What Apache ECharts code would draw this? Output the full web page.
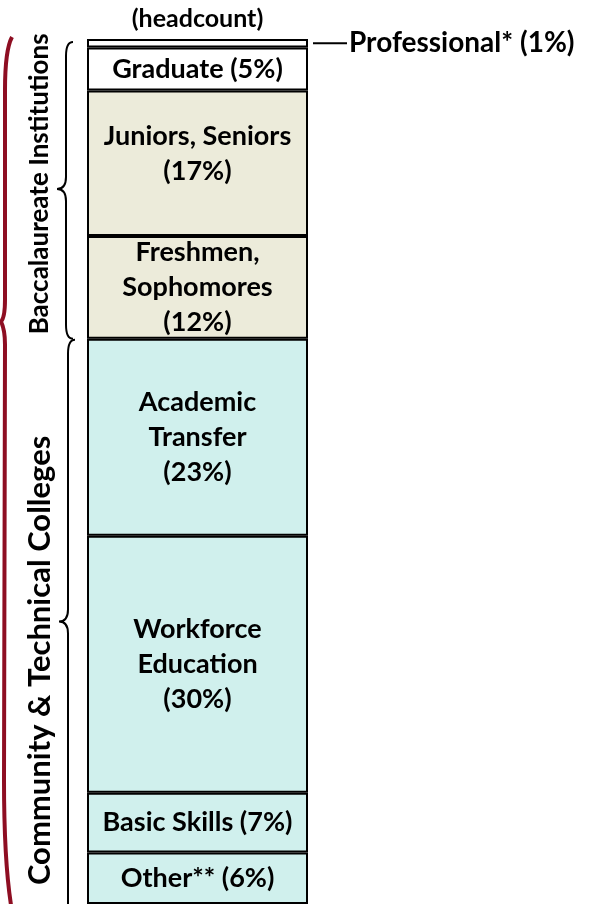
<!DOCTYPE html>
<html>
<head>
<meta charset="utf-8">
<script src="https://cdn.jsdelivr.net/npm/echarts@6/dist/echarts.min.js"></script>
<style>
html, body { margin: 0; padding: 0; background: #fff; }
#chart { width: 591px; height: 904px; }
</style>
</head>
<body>
<div id="chart"></div>
<script>
// headcount shares, top of the column first
const category = ['(headcount)']
const segments = ['Professional*', 'Graduate', 'Juniors, Seniors', 'Freshmen, Sophomores', 'Academic Transfer', 'Workforce Education', 'Basic Skills', 'Other**']
const shares = [1, 5, 17, 12, 23, 30, 7, 6]
const segLabels = ['Professional* (1%)', 'Graduate (5%)', 'Juniors, Seniors\n(17%)', 'Freshmen,\nSophomores\n(12%)', 'Academic\nTransfer\n(23%)', 'Workforce\nEducation\n(30%)', 'Basic Skills (7%)', 'Other** (6%)']
const groups = ['Baccalaureate Institutions', 'Community & Technical Colleges']
const groupSizes = [4, 4]

const FONT = 'Lato'
const segColors = ['#ffffff', '#ffffff', '#ecebda', '#ecebda', '#d0f0ed', '#d0f0ed', '#d0f0ed', '#d0f0ed']
const total = shares.reduce((a, b) => a + b, 0)

// curly brace, tip pointing left
const Brace = echarts.graphic.extendShape({
    shape: { x: 0, y1: 0, y2: 0, tip: 0, depth: 9, curl: 7 },
    buildPath (ctx, s) {
        ctx.moveTo(s.x + s.curl, s.y1)
        ctx.quadraticCurveTo(s.x, s.y1, s.x, s.y1 + 14)
        ctx.lineTo(s.x, s.tip - 12)
        ctx.quadraticCurveTo(s.x, s.tip, s.x - s.depth, s.tip)
        ctx.quadraticCurveTo(s.x, s.tip, s.x, s.tip + 12)
        ctx.lineTo(s.x, s.y2 - 14)
        ctx.quadraticCurveTo(s.x, s.y2, s.x + s.curl, s.y2)
    }
})
// big red bracket on the far left
const BigBracket = echarts.graphic.extendShape({
    shape: { y1: 0, y2: 0, tip: 0 },
    buildPath (ctx, s) {
        ctx.moveTo(12, s.y1)
        ctx.quadraticCurveTo(5, s.y1 + 13, 5, s.y1 + 53)
        ctx.lineTo(5, s.tip - 22)
        ctx.quadraticCurveTo(5, s.tip - 4, 1, s.tip)
        ctx.quadraticCurveTo(5, s.tip + 8, 5, s.tip + 23)
        ctx.lineTo(4, s.y2 - 125)
        ctx.quadraticCurveTo(4, s.y2 - 45, 11, s.y2)
    }
})
echarts.graphic.registerShape('brace', Brace)
echarts.graphic.registerShape('bigBracket', BigBracket)

const chart = echarts.init(document.getElementById('chart'))

const series = segments.map((name, i) => {
    const label = {
        show: true,
        position: 'inside',
        formatter: segLabels[i],
        color: '#000',
        fontFamily: FONT,
        fontWeight: 'bold',
        fontSize: 27,
        lineHeight: 35
    }
    if (i === 0) {
        // small slice: label sits outside with a leader line
        label.position = 'right'
        label.distance = 5
        label.formatter = '{line|}{t|' + segLabels[i] + '}'
        label.rich = {
            line: { width: 34, height: 2, backgroundColor: '#000' },
            t: { fontFamily: FONT, fontWeight: 'bold', fontSize: 28, color: '#000', padding: [0, 0, 0, 2] }
        }
    }
    if (i === 2) label.offset = [0, -9]
    return {
        name: name,
        type: 'bar',
        stack: 'all',
        barWidth: '100%',
        data: [shares[i]],
        itemStyle: { color: segColors[i], borderColor: '#000', borderWidth: 2 },
        label: label,
        silent: true
    }
})

chart.setOption({
    animation: false,
    grid: { left: 87, right: 283, top: 39, bottom: -2 },
    xAxis: {
        type: 'category',
        position: 'top',
        data: category,
        axisLine: { show: false },
        axisTick: { show: false },
        axisLabel: { margin: 8, color: '#000', fontFamily: FONT, fontWeight: 'bold', fontSize: 25 }
    },
    yAxis: {
        type: 'value',
        inverse: true,
        min: 0,
        max: total,
        show: false
    },
    series: series
})

const toY = v => chart.convertToPixel({ yAxisIndex: 0 }, v)
const titleShift = [-5, 39]
const titleSize = [26, 31]
let start = 0
let idx = 0
const graphic = []
groups.forEach((g, gi) => {
    let end = start
    for (let k = 0; k < groupSizes[gi]; k++) end += shares[idx++]
    const y1 = toY(start) + (gi === 0 ? 3 : 1)
    const y2 = toY(end) + (gi === 0 ? 0 : 30)
    const mid = (toY(start) + toY(end)) / 2
    graphic.push({
        type: 'brace',
        shape: { x: gi === 0 ? 66 : 68, y1: y1, y2: y2, tip: mid, depth: 9, curl: 7 },
        style: { fill: 'none', stroke: '#000', lineWidth: 2 }
    })
    graphic.push({
        type: 'text',
        x: 40,
        y: mid + titleShift[gi],
        rotation: Math.PI / 2,
        style: {
            text: g,
            fill: '#000',
            font: 'bold ' + titleSize[gi] + 'px ' + FONT,
            textAlign: 'center',
            textVerticalAlign: 'middle'
        }
    })
    start = end
})
graphic.push({
    type: 'bigBracket',
    shape: { y1: toY(0) - 2, y2: toY(total) + 1, tip: toY(33) },
    style: { fill: 'none', stroke: '#8e0e22', lineWidth: 4 }
})
chart.setOption({ graphic: graphic })
</script>
</body>
</html>
